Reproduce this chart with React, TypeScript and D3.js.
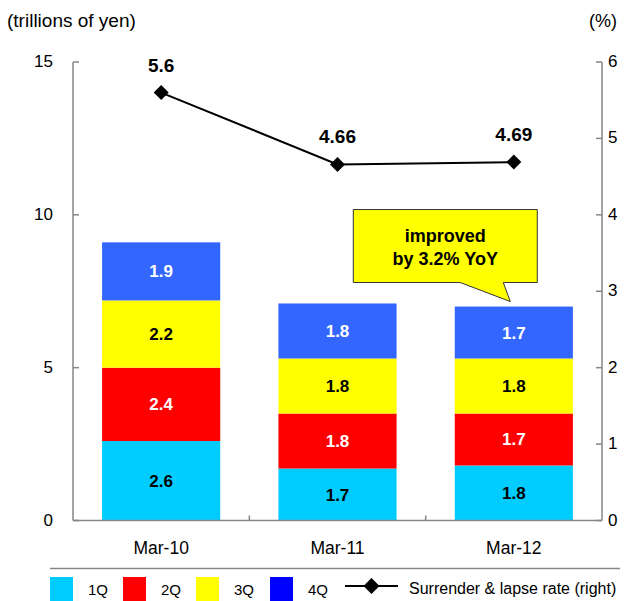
import React from "react";
import * as d3 from "d3";

const categories = ["Mar-10", "Mar-11", "Mar-12"];
const seriesNames = ["1Q", "2Q", "3Q", "4Q"];
const q1 = [2.6, 1.7, 1.8];
const q2 = [2.4, 1.8, 1.7];
const q3 = [2.2, 1.8, 1.8];
const q4 = [1.9, 1.8, 1.7];
const lapseRate = [5.6, 4.66, 4.69];
const lapseLabels = ["5.6", "4.66", "4.69"];
const leftTicks = [0, 5, 10, 15];
const rightTicks = [0, 1, 2, 3, 4, 5, 6];
const lineName = "Surrender & lapse rate (right)";
const calloutLines = ["improved", "by 3.2% YoY"];

const barColors = ["#00CCFF", "#FF0000", "#FFFF00", "#3366FF"];
const legendColors = ["#00CCFF", "#FF0000", "#FFFF00", "#0000FF"];
const labelColors = ["#000", "#fff", "#000", "#fff"];

export default function App() {
  const W = 625, H = 601;
  const left = 73, right = 602, top = 62, bottom = 520.5;
  const font = "'Liberation Sans', Arial, sans-serif";
  const x = d3.scaleBand().domain(categories).range([left, right]).paddingInner(0.33).paddingOuter(0.165);
  const y = d3.scaleLinear().domain([0, 15]).range([bottom, top]);
  const y2 = d3.scaleLinear().domain([0, 6]).range([bottom, top]);
  const rows = categories.map((c, i) => ({ cat: c, q1: q1[i], q2: q2[i], q3: q3[i], q4: q4[i] }));
  const stack = d3.stack<any>().keys(["q1", "q2", "q3", "q4"])(rows);
  const line = d3.line<number>().x((_, i) => x(categories[i])! + x.bandwidth() / 2).y((d) => y2(d));
  const axisColor = "#868686";
  const bandStep = (right - left) / categories.length;

  // callout anchored to Mar-12 bar top
  const ci = 2;
  const tipX = x(categories[ci])! + x.bandwidth() * 0.47;
  const tipY = y(q1[ci] + q2[ci] + q3[ci] + q4[ci]) - 5;
  const bx0 = tipX - 157, bx1 = tipX + 27, by0 = tipY - 92, by1 = tipY - 19;
  const calloutPath = `M${bx0},${by0} L${bx1},${by0} L${bx1},${by1} L${tipX - 7},${by1} L${tipX},${tipY} L${tipX - 50},${by1} L${bx0},${by1} Z`;

  const legendItems = [50, 123, 196, 270];

  return (
    <svg width={W} height={H} style={{ position: "absolute", left: 0, top: 0 }} fontFamily={font}>
      <rect width={W} height={H} fill="#fff" />
      <text x={7} y={27} fontSize={19}>(trillions of yen)</text>
      <text x={589} y={27} fontSize={18}>(%)</text>

      {stack.map((s, si) =>
        s.map((d, i) => (
          <g key={`${si}-${i}`}>
            <rect x={x(categories[i])} y={y(d[1])} width={x.bandwidth()} height={y(d[0]) - y(d[1])} fill={barColors[si]} />
            <text x={x(categories[i])! + x.bandwidth() / 2} y={(y(d[0]) + y(d[1])) / 2 + 6} textAnchor="middle" fontSize={17} fontWeight="bold" fill={labelColors[si]}>
              {(d[1] - d[0]).toFixed(1)}
            </text>
          </g>
        ))
      )}

      {/* axes */}
      <line x1={left} x2={left} y1={top} y2={bottom} stroke={axisColor} strokeWidth={1.5} />
      <line x1={right} x2={right} y1={top} y2={bottom} stroke={axisColor} strokeWidth={1.5} />
      <line x1={left} x2={right} y1={bottom} y2={bottom} stroke={axisColor} strokeWidth={1.5} />
      {leftTicks.map((t) => (
        <g key={`l${t}`}>
          <line x1={left} x2={left + 6} y1={y(t)} y2={y(t)} stroke={axisColor} strokeWidth={1.5} />
          <text x={53} y={y(t) + 5} textAnchor="end" fontSize={17}>{t}</text>
        </g>
      ))}
      {rightTicks.map((t) => (
        <g key={`r${t}`}>
          <line x1={right - 6} x2={right} y1={y2(t)} y2={y2(t)} stroke={axisColor} strokeWidth={1.5} />
          <text x={608} y={y2(t) + 5} textAnchor="start" fontSize={17}>{t}</text>
        </g>
      ))}
      {[1, 2].map((k) => (
        <line key={`b${k}`} x1={left + bandStep * k} x2={left + bandStep * k} y1={bottom} y2={bottom - 5} stroke={axisColor} strokeWidth={1.5} />
      ))}
      {categories.map((c) => (
        <text key={c} x={x(c)! + x.bandwidth() / 2} y={554} textAnchor="middle" fontSize={17.5}>{c}</text>
      ))}

      {/* line */}
      <path d={line(lapseRate)!} fill="none" stroke="#000" strokeWidth={2} />
      {lapseRate.map((v, i) => {
        const cx = x(categories[i])! + x.bandwidth() / 2;
        const cy = y2(v);
        return (
          <g key={`p${i}`}>
            <path d={`M${cx},${cy - 7.5} L${cx + 7.5},${cy} L${cx},${cy + 7.5} L${cx - 7.5},${cy} Z`} fill="#000" />
            <text x={cx} y={cy - 21} textAnchor="middle" fontSize={19} fontWeight="bold">{lapseLabels[i]}</text>
          </g>
        );
      })}

      {/* callout */}
      <path d={calloutPath} fill="#FFFF00" stroke="#333" strokeWidth={1} />
      {calloutLines.map((t, i) => (
        <text key={t} x={(bx0 + bx1) / 2} y={by0 + 32 + i * 23} textAnchor="middle" fontSize={18} fontWeight="bold">{t}</text>
      ))}

      {/* legend */}
      <line x1={50} x2={620} y1={568.5} y2={568.5} stroke={axisColor} strokeWidth={1.5} />
      {seriesNames.map((n, i) => (
        <g key={n}>
          <rect x={legendItems[i]} y={577} width={23} height={24} fill={legendColors[i]} />
          <text x={legendItems[i] + 38} y={595} fontSize={15}>{n}</text>
        </g>
      ))}
      <line x1={345} x2={398} y1={586} y2={586} stroke="#000" strokeWidth={2} />
      <path d={`M371.5,578 L379.5,586 L371.5,594 L363.5,586 Z`} fill="#000" />
      <text x={409} y={594} fontSize={16}>{lineName}</text>
    </svg>
  );
}
